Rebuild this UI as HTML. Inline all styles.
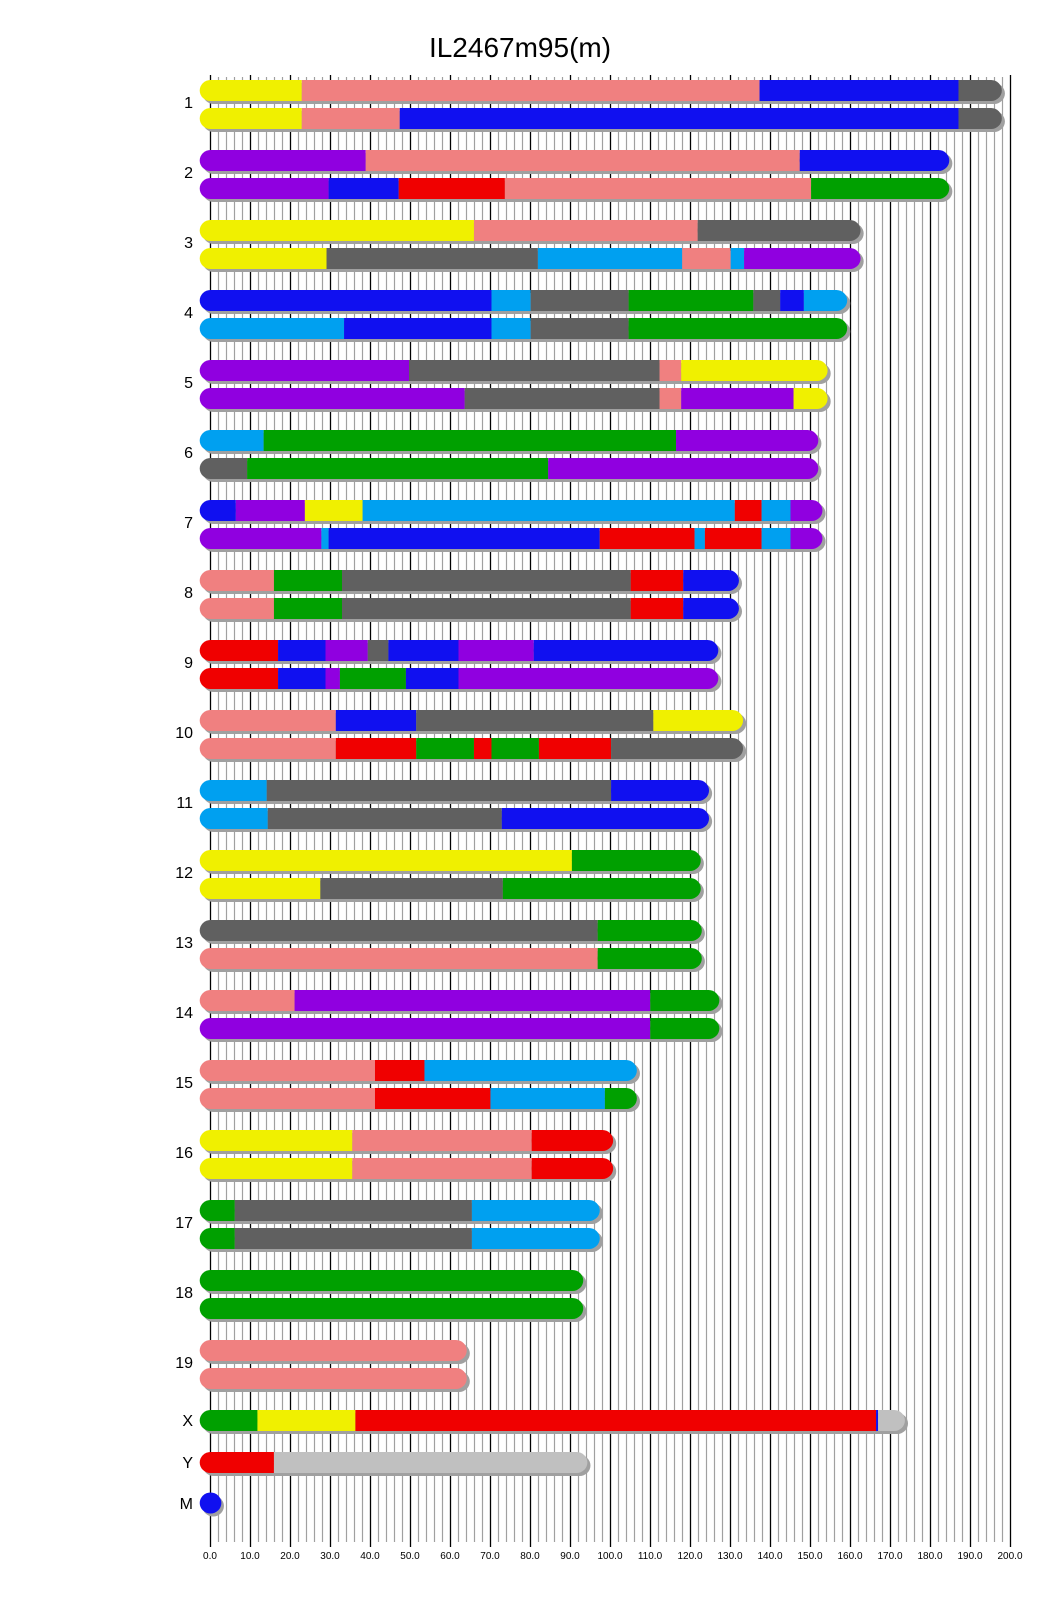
<!DOCTYPE html>
<html><head><meta charset="utf-8"><style>
html,body{margin:0;padding:0;background:#fff;width:1040px;height:1616px;overflow:hidden}
svg{display:block}
text{font-family:"Liberation Sans",sans-serif;fill:#000}
</style></head><body>
<svg id="s" width="1040" height="1616" xmlns="http://www.w3.org/2000/svg">
<g id="grid"></g>
<g id="bars" transform="matrix(1.031 0 0 1 -0.3 0)"></g>
<text x="520" y="57" font-size="28" text-anchor="middle">IL2467m95(m)</text>
<g font-size="16" text-anchor="end">
<text x="193" y="108">1</text><text x="193" y="178">2</text><text x="193" y="248">3</text><text x="193" y="318">4</text><text x="193" y="388">5</text><text x="193" y="458">6</text><text x="193" y="528">7</text><text x="193" y="598">8</text><text x="193" y="668">9</text><text x="193" y="738">10</text><text x="193" y="808">11</text><text x="193" y="878">12</text><text x="193" y="948">13</text><text x="193" y="1018">14</text><text x="193" y="1088">15</text><text x="193" y="1158">16</text><text x="193" y="1228">17</text><text x="193" y="1298">18</text><text x="193" y="1368">19</text><text x="193" y="1426">X</text><text x="193" y="1468">Y</text><text x="193" y="1509">M</text>
</g>
<g font-size="10" text-anchor="middle">
<text x="210" y="1559">0.0</text><text x="250" y="1559">10.0</text><text x="290" y="1559">20.0</text><text x="330" y="1559">30.0</text><text x="370" y="1559">40.0</text><text x="410" y="1559">50.0</text><text x="450" y="1559">60.0</text><text x="490" y="1559">70.0</text><text x="530" y="1559">80.0</text><text x="570" y="1559">90.0</text><text x="610" y="1559">100.0</text><text x="650" y="1559">110.0</text><text x="690" y="1559">120.0</text><text x="730" y="1559">130.0</text><text x="770" y="1559">140.0</text><text x="810" y="1559">150.0</text><text x="850" y="1559">160.0</text><text x="890" y="1559">170.0</text><text x="930" y="1559">180.0</text><text x="970" y="1559">190.0</text><text x="1010" y="1559">200.0</text>
</g>
</svg>
<script>
var NS="http://www.w3.org/2000/svg";
function el(p,t,a){var e=document.createElementNS(NS,t);for(var k in a)e.setAttribute(k,a[k]);p.appendChild(e);return e;}
var g=document.getElementById('grid');
for(var k=0;k<=100;k++){var x=210+8*k+0.5;var b=k%5==0;
el(g,'line',{x1:x,x2:x,y1:b?75:77,y2:b?1547:1542,stroke:b?'#000':'#a0a0a0','stroke-width':b?1.3:1.2});}
var C={Y:'#f0f000',S:'#f08080',B:'#1010f0',G:'#606060',P:'#9000e0',R:'#f00000',N:'#00a000',L:'#00a0f0',W:'#c0c0c0'};
var D=[
[["Y",293,"S",737,"B",930,"G",972],["Y",293,"S",388,"B",930,"G",972]],
[["P",355,"S",776,"B",921],["P",319,"B",387,"R",490,"S",787,"N",921]],
[["Y",460,"S",677,"G",835],["Y",317,"G",522,"L",662,"S",709,"L",722,"P",835]],
[["B",477,"L",515,"G",610,"N",731,"G",757,"B",780,"L",822],["L",334,"B",477,"L",515,"G",610,"N",822]],
[["P",397,"G",640,"S",661,"Y",803],["P",451,"G",640,"S",661,"P",770,"Y",803]],
[["L",256,"N",656,"P",794],["G",240,"N",532,"P",794]],
[["B",229,"P",296,"Y",352,"L",713,"R",739,"L",767,"P",798],["P",312,"L",319,"B",582,"R",674,"L",684,"R",739,"L",767,"P",798]],
[["S",266,"N",332,"G",612,"R",663,"B",717],["S",266,"N",332,"G",612,"R",663,"B",717]],
[["R",270,"B",316,"P",357,"G",377,"B",445,"P",518,"B",697],["R",270,"B",316,"P",330,"N",394,"B",445,"P",697]],
[["S",326,"B",404,"G",634,"Y",721],["S",326,"R",404,"N",460,"R",477,"N",523,"R",593,"G",721]],
[["L",259,"G",593,"B",688],["L",260,"G",487,"B",688]],
[["Y",555,"N",680],["Y",311,"G",488,"N",680]],
[["G",580,"N",681],["S",580,"N",681]],
[["S",286,"P",631,"N",698],["P",631,"N",698]],
[["S",364,"R",412,"L",618],["S",364,"R",476,"L",587,"N",618]],
[["Y",342,"S",516,"R",595],["Y",342,"S",516,"R",595]],
[["N",228,"G",458,"L",582],["N",228,"G",458,"L",582]],
[["N",566],["N",566]],
[["S",453],["S",453]]
];
var bg=document.getElementById('bars');
function bar(y,s){var end=s[s.length-1];var h=21;
el(bg,'rect',{x:197,y:y+3,width:end-194,height:h,rx:10.5,ry:10.5,fill:'#a0a0a0'});
var st=194,n=s.length/2;
if(n==1){el(bg,'rect',{x:st,y:y,width:end-st,height:h,rx:10.5,ry:10.5,fill:C[s[0]]});return;}
for(var i=0;i<n;i++){var c=C[s[2*i]],e=s[2*i+1];
 if(i==0){el(bg,'rect',{x:st,y:y,width:e-st,height:h,rx:10.5,ry:10.5,fill:c});
   var x0=Math.min(st+10,e); el(bg,'rect',{x:x0,y:y,width:e-x0,height:h,fill:c});}
 else if(i==n-1){el(bg,'rect',{x:st,y:y,width:e-st,height:h,rx:10.5,ry:10.5,fill:c});
   var x1=Math.max(e-10,st); el(bg,'rect',{x:st,y:y,width:x1-st,height:h,fill:c});}
 else el(bg,'rect',{x:st,y:y,width:e-st,height:h,fill:c});
 st=e;}
}
for(var i=0;i<19;i++){var t=80+70*i;bar(t,D[i][0]);bar(t+28,D[i][1]);}
bar(1410,["N",250,"Y",345,"R",850,"B",852,"W",878]);
bar(1452,["R",266,"W",570]);
el(bg,'circle',{cx:207,cy:1506,r:10.5,fill:'#a0a0a0'});
el(bg,'circle',{cx:204.5,cy:1503,r:10.5,fill:'#1010f0'});
</script>
</body></html>
